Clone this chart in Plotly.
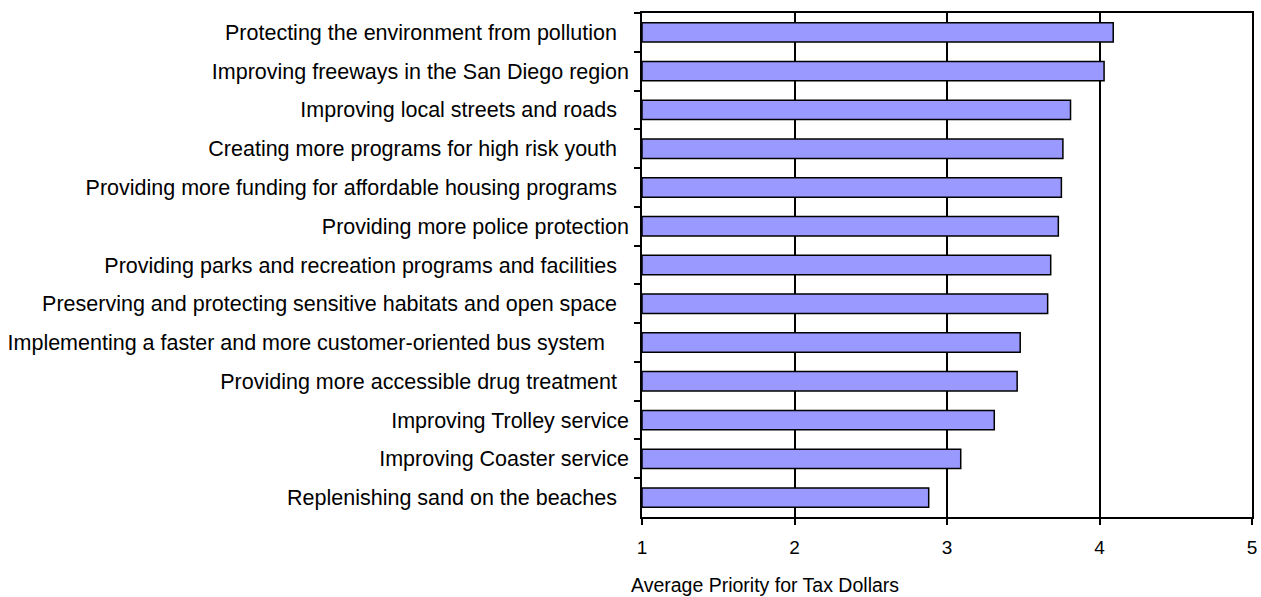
import plotly.graph_objects as go

categories = [
    "Protecting the environment from pollution\u00a0\u00a0",
    "Improving freeways in the San Diego region",
    "Improving local streets and roads\u00a0\u00a0",
    "Creating more programs for high risk youth\u00a0\u00a0",
    "Providing more funding for affordable housing programs\u00a0\u00a0",
    "Providing more police protection",
    "Providing parks and recreation programs and facilities\u00a0\u00a0",
    "Preserving and protecting sensitive habitats and open space\u00a0\u00a0",
    "Implementing a faster and more customer-oriented bus system\u00a0\u00a0\u00a0\u00a0",
    "Providing more accessible drug treatment\u00a0\u00a0",
    "Improving Trolley service",
    "Improving Coaster service",
    "Replenishing sand on the beaches\u00a0\u00a0",
]
values = [4.09, 4.03, 3.81, 3.76, 3.75, 3.73, 3.68, 3.66, 3.48, 3.46, 3.31, 3.09, 2.88]
x_ticks = [1, 2, 3, 4, 5]
x_title = "Average Priority for Tax Dollars"
AXIS_MIN = 1

FONT = "Liberation Sans, Arial, sans-serif"

fig = go.Figure(
    go.Bar(
        x=[v - AXIS_MIN for v in values],
        y=categories,
        orientation="h",
        base=AXIS_MIN,
        width=0.5,
        marker=dict(color="#9999FF", line=dict(color="black", width=1.5)),
        hovertext=[str(v) for v in values],
    )
)

fig.update_layout(
    width=1261,
    height=597,
    margin=dict(l=642, r=9, t=13, b=80),
    paper_bgcolor="white",
    plot_bgcolor="white",
    showlegend=False,
    font=dict(family=FONT, color="black", size=21.5),
)
fig.update_xaxes(
    range=[1, 5],
    tickvals=x_ticks,
    ticktext=[str(t) for t in x_ticks],
    showgrid=True,
    gridcolor="black",
    gridwidth=1.5,
    showline=True,
    linecolor="black",
    linewidth=1.5,
    mirror=True,
    ticks="outside",
    ticklen=6,
    tickwidth=1.5,
    tickcolor="black",
    tickfont=dict(size=19),
    ticklabelstandoff=6,
    zeroline=False,
    automargin=False,
)
fig.update_yaxes(
    autorange="reversed",
    showline=True,
    linecolor="black",
    linewidth=1.5,
    mirror=True,
    ticks="outside",
    ticklen=6,
    tickwidth=1.5,
    tickcolor="black",
    tickson="boundaries",
    showgrid=False,
    tickfont=dict(size=21.5),
    ticklabelstandoff=7,
    automargin=False,
)
fig.add_annotation(
    text=x_title,
    xref="paper",
    yref="paper",
    x=0.2016,
    y=-0.135,
    xanchor="center",
    yanchor="middle",
    showarrow=False,
    font=dict(size=19.5),
)

fig.write_html("out.html")
